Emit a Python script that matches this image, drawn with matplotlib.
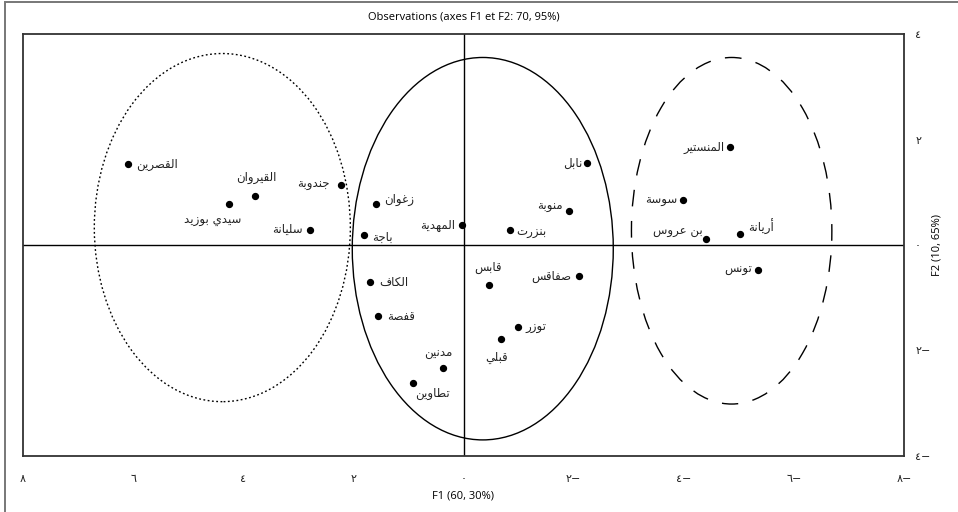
import numpy as np
import matplotlib
matplotlib.use('Agg')
import matplotlib.pyplot as plt
from matplotlib.patches import Ellipse, Rectangle

# DATA =========================================================================
names = ['القصرين', 'القيروان', 'سيدي بوزيد', 'جندوبة', 'سليانة',
         'زغوان', 'باجة', 'المهدية', 'نابل', 'منوبة', 'بنزرت',
         'المنستير', 'سوسة', 'بن عروس', 'أريانة', 'تونس', 'صفاقس',
         'قابس', 'توزر', 'قبلي', 'الكاف', 'قفصة', 'مدنين', 'تطاوين']
f1 = [6.10, 3.79, 4.25, 2.22, 2.79,
      1.59, 1.80, 0.02, -2.25, -1.91, -0.85,
      -4.84, -3.98, -4.41, -5.02, -5.34, -2.10,
      -0.46, -0.99, -0.69, 1.70, 1.56, 0.37, 0.92]
f2 = [1.53, 0.93, 0.78, 1.14, 0.29,
      0.78, 0.19, 0.37, 1.55, 0.65, 0.28,
      1.85, 0.85, 0.11, 0.20, -0.47, -0.59,
      -0.76, -1.56, -1.79, -0.71, -1.35, -2.33, -2.61]

# groups drawn as ellipses (centre F1, centre F2, width, height)
group_cx = [4.38, -0.35, -4.87]
group_cy = [0.33, -0.07, 0.27]
group_w = [4.65, 4.74, 3.64]
group_h = [6.60, 7.25, 6.57]

x_ticks = [8, 6, 4, 2, 0, -2, -4, -6, -8]
y_ticks = [4, 2, 0, -2, -4]

title = 'Observations (axes F1 et F2: 70, 95%)'
x_label = 'F1 (60, 30%)'
y_label = 'F2 (10, 65%)'

# ARABIC SHAPING (matplotlib has no text shaper) ===============================
# isolated, final, initial, medial
FORMS = {
    'ا': ('\uFE8D', '\uFE8E', None, None),
    'أ': ('\uFE83', '\uFE84', None, None),
    'ب': ('\uFE8F', '\uFE90', '\uFE91', '\uFE92'),
    'ة': ('\uFE93', '\uFE94', None, None),
    'ت': ('\uFE95', '\uFE96', '\uFE97', '\uFE98'),
    'ج': ('\uFE9D', '\uFE9E', '\uFE9F', '\uFEA0'),
    'د': ('\uFEA9', '\uFEAA', None, None),
    'ر': ('\uFEAD', '\uFEAE', None, None),
    'ز': ('\uFEAF', '\uFEB0', None, None),
    'س': ('\uFEB1', '\uFEB2', '\uFEB3', '\uFEB4'),
    'ص': ('\uFEB9', '\uFEBA', '\uFEBB', '\uFEBC'),
    'ط': ('\uFEC1', '\uFEC2', '\uFEC3', '\uFEC4'),
    'ع': ('\uFEC9', '\uFECA', '\uFECB', '\uFECC'),
    'غ': ('\uFECD', '\uFECE', '\uFECF', '\uFED0'),
    'ف': ('\uFED1', '\uFED2', '\uFED3', '\uFED4'),
    'ق': ('\uFED5', '\uFED6', '\uFED7', '\uFED8'),
    'ك': ('\uFED9', '\uFEDA', '\uFEDB', '\uFEDC'),
    'ل': ('\uFEDD', '\uFEDE', '\uFEDF', '\uFEE0'),
    'م': ('\uFEE1', '\uFEE2', '\uFEE3', '\uFEE4'),
    'ن': ('\uFEE5', '\uFEE6', '\uFEE7', '\uFEE8'),
    'ه': ('\uFEE9', '\uFEEA', '\uFEEB', '\uFEEC'),
    'و': ('\uFEED', '\uFEEE', None, None),
    'ي': ('\uFEF1', '\uFEF2', '\uFEF3', '\uFEF4'),
}


def shape_arabic(text: str):
    out = []
    for i, ch in enumerate(text):
        if ch not in FORMS:
            out.append(ch)
            continue
        prev = text[i - 1] if i > 0 else ''
        nxt = text[i + 1] if i + 1 < len(text) else ''
        joins_prev = prev in FORMS and FORMS[prev][2] is not None
        joins_next = FORMS[ch][2] is not None and nxt in FORMS
        if joins_prev and joins_next:
            out.append(FORMS[ch][3])
        elif joins_prev:
            out.append(FORMS[ch][1])
        elif joins_next:
            out.append(FORMS[ch][2])
        else:
            out.append(FORMS[ch][0])
    return ''.join(reversed(out))


def arabic_number(v: int):
    s = str(abs(v)).translate(str.maketrans('0123456789', '٠١٢٣٤٥٦٧٨٩'))
    return s + '\u2212' if v < 0 else s


# label placement: offset in pixels from the dot, horizontal alignment
label_pos = {
    'القصرين': (9, 0, 'left'), 'القيروان': (1, 18, 'center'),
    'سيدي بوزيد': (-17, -17, 'center'), 'جندوبة': (-12, 0, 'right'),
    'سليانة': (-7, 0, 'right'), 'زغوان': (8, 4, 'left'),
    'باجة': (8, -2, 'left'), 'المهدية': (-7, 0, 'right'),
    'نابل': (-5, 0, 'right'), 'منوبة': (-6, 4, 'right'),
    'بنزرت': (6, -2, 'left'), 'المنستير': (-5, 0, 'right'),
    'سوسة': (-5, 0, 'right'), 'بن عروس': (-4, 8, 'right'),
    'أريانة': (8, 7, 'left'), 'تونس': (-5, 0, 'right'),
    'صفاقس': (-8, 0, 'right'), 'قابس': (-1, 18, 'center'),
    'توزر': (7, 0, 'left'), 'قبلي': (-5, -18, 'center'),
    'الكاف': (9, 0, 'left'), 'قفصة': (10, 0, 'left'),
    'مدنين': (-5, 14, 'center'), 'تطاوين': (20, -11, 'center'),
}

# PLOT =========================================================================
plt.rcParams['font.family'] = ['Open Sans', 'DejaVu Sans']
W, H = 958, 512
fig = plt.figure(figsize=(W / 100, H / 100), dpi=100)
ax = fig.add_axes([23 / W, (H - 456) / H, (904 - 23) / W, (456 - 34) / H])

fig.add_artist(Rectangle((5 / W, -0.1), 1.2, 1.1 - 2 / H,
                         transform=fig.transFigure, fill=False,
                         edgecolor='#777777', linewidth=1.4))

ax.axhline(0, color='black', linewidth=1.0)
ax.axvline(0, color='black', linewidth=1.0)

styles = [(0, (1.3, 1.8)), '-', (5, (12, 10.5))]
for cx, cy, w, h, ls in zip(group_cx, group_cy, group_w, group_h, styles):
    ax.add_patch(Ellipse((cx, cy), w, h, fill=False, edgecolor='black',
                         linewidth=1.0, linestyle=ls))

ax.scatter(f1, f2, s=18, color='black', zorder=3)
for name, x, y in zip(names, f1, f2):
    dx, dy, ha = label_pos[name]
    ax.annotate(shape_arabic(name), (x, y), xytext=(dx * 0.72, dy * 0.72),
                textcoords='offset points', ha=ha, va='center',
                fontsize=8.5, family='DejaVu Sans', color='#222222')

ax.set_xlim(8, -8)
ax.set_ylim(-4, 4)
ax.set_xticks(x_ticks)
ax.set_xticklabels([arabic_number(v) for v in x_ticks], family='DejaVu Sans')
ax.set_yticks(y_ticks)
ax.set_yticklabels([arabic_number(v) for v in y_ticks], family='DejaVu Sans')
ax.yaxis.tick_right()
ax.yaxis.set_label_position('right')
ax.tick_params(length=0, labelsize=8, colors='#222222')
ax.tick_params(axis='x', pad=13)
ax.tick_params(axis='y', pad=8)
for s in ax.spines.values():
    s.set_color('#333333')
    s.set_linewidth(1.3)

ax.set_title(title, fontsize=8, pad=10.5)
ax.set_xlabel(x_label, fontsize=8, labelpad=5)
ax.set_ylabel(y_label, fontsize=8, labelpad=1)

fig.savefig('out.png', dpi=100)
